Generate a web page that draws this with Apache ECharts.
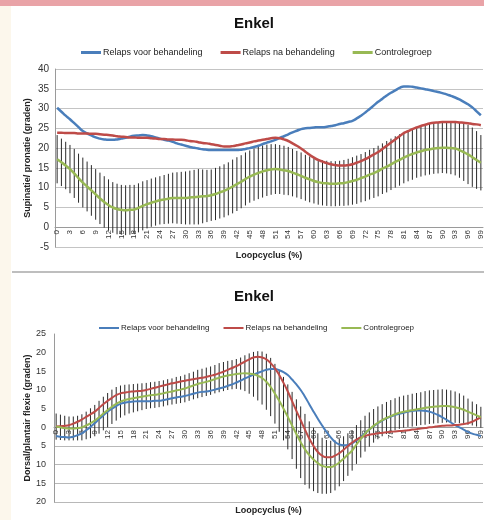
<!DOCTYPE html>
<html>
<head>
<meta charset="utf-8">
<script src="https://cdn.jsdelivr.net/npm/echarts@6/dist/echarts.min.js"></script>
<style>
  html, body { margin: 0; padding: 0; background: #fff; }
  #chart { width: 484px; height: 520px; }
</style>
</head>
<body>
<div id="chart"></div>
<script>
// loopcyclus 0..99 %
const cycle = Array.from({ length: 100 }, (_, i) => String(i));

// Enkel - supinatie/pronatie (boven)
const supVoor = [30.2, 29.2, 28.2, 27.3, 26.3, 25.3, 24.3, 23.7, 23.2, 22.7, 22.4, 22.2, 22.1, 22.1, 22.2, 22.4, 22.6, 22.9, 23.1, 23.2,
  23.3, 23.2, 23.0, 22.7, 22.4, 22.1, 21.9, 21.6, 21.2, 20.9, 20.6, 20.3, 20.1, 19.9, 19.7, 19.6, 19.5, 19.5, 19.5, 19.5,
  19.5, 19.5, 19.5, 19.6, 19.8, 20.0, 20.3, 20.6, 21.0, 21.4, 21.7, 22.1, 22.6, 23.0, 23.5, 24.0, 24.4, 24.8, 25.0, 25.1,
  25.2, 25.3, 25.3, 25.4, 25.6, 25.8, 26.1, 26.3, 26.6, 26.9, 27.5, 28.2, 29.0, 29.9, 30.8, 31.7, 32.5, 33.3, 34.0, 34.6,
  35.2, 35.6, 35.6, 35.5, 35.3, 35.1, 34.9, 34.7, 34.4, 34.2, 33.9, 33.6, 33.2, 32.8, 32.3, 31.7, 31.1, 30.3, 29.3, 28.3];
const supNa = [23.9, 23.9, 23.8, 23.8, 23.8, 23.7, 23.7, 23.7, 23.6, 23.6, 23.5, 23.4, 23.3, 23.2, 23.0, 22.9, 22.8, 22.7, 22.7, 22.6,
  22.6, 22.6, 22.5, 22.4, 22.3, 22.3, 22.2, 22.2, 22.1, 22.1, 22.0, 21.8, 21.7, 21.5, 21.3, 21.2, 21.0, 20.8, 20.6, 20.4,
  20.4, 20.5, 20.7, 20.9, 21.2, 21.4, 21.7, 21.9, 22.1, 22.3, 22.5, 22.6, 22.5, 22.2, 21.8, 21.2, 20.6, 19.9, 19.1, 18.3,
  17.6, 17.0, 16.6, 16.2, 15.9, 15.7, 15.6, 15.6, 15.7, 15.9, 16.3, 16.7, 17.2, 17.8, 18.4, 19.0, 19.8, 20.6, 21.4, 22.2,
  23.0, 23.8, 24.3, 24.8, 25.2, 25.6, 25.9, 26.2, 26.4, 26.5, 26.6, 26.6, 26.6, 26.6, 26.5, 26.4, 26.3, 26.1, 26.0, 25.8];
const supControle = [17.2, 16.4, 15.6, 14.7, 13.6, 12.4, 11.3, 10.3, 9.3, 8.3, 7.3, 6.4, 5.6, 5.0, 4.6, 4.4, 4.3, 4.4, 4.5, 4.9,
  5.4, 5.8, 6.2, 6.5, 6.8, 7.0, 7.2, 7.4, 7.4, 7.4, 7.4, 7.5, 7.6, 7.7, 7.8, 7.9, 8.1, 8.4, 8.8, 9.2,
  9.7, 10.3, 10.9, 11.5, 12.2, 12.8, 13.3, 13.7, 14.1, 14.4, 14.6, 14.7, 14.6, 14.4, 14.2, 13.8, 13.4, 13.0, 12.5, 12.1,
  11.7, 11.4, 11.2, 11.1, 11.0, 11.0, 11.1, 11.2, 11.4, 11.7, 12.0, 12.4, 12.8, 13.3, 13.7, 14.2, 14.8, 15.3, 15.9, 16.5,
  17.0, 17.6, 18.1, 18.5, 18.9, 19.2, 19.5, 19.7, 19.9, 20.0, 20.1, 20.1, 20.0, 19.9, 19.5, 19.0, 18.4, 17.7, 17.0, 16.3];
const supControleSd = [6.1, 6.0, 6.0, 6.1, 6.2, 6.2, 6.3, 6.3, 6.4, 6.4, 6.5, 6.5, 6.5, 6.4, 6.4, 6.3, 6.3, 6.3, 6.2, 6.2,
  6.2, 6.1, 6.1, 6.1, 6.1, 6.2, 6.3, 6.4, 6.5, 6.6, 6.7, 6.8, 6.9, 7.0, 6.8, 6.6, 6.5, 6.6, 6.6, 6.7,
  6.7, 6.8, 6.8, 6.7, 6.7, 6.6, 6.6, 6.6, 6.6, 6.5, 6.4, 6.3, 6.2, 6.2, 6.1, 6.0, 5.9, 5.9, 5.8, 5.8,
  5.7, 5.7, 5.7, 5.7, 5.7, 5.7, 5.7, 5.8, 5.9, 6.0, 6.1, 6.1, 6.2, 6.3, 6.3, 6.4, 6.4, 6.5, 6.5, 6.5,
  6.5, 6.5, 6.5, 6.5, 6.4, 6.4, 6.4, 6.4, 6.4, 6.4, 6.4, 6.5, 6.6, 6.8, 7.0, 7.3, 7.5, 7.5, 7.3, 7.0];

// Enkel - dorsaal/plantair flexie (onder)
const flexVoor = [-2.3, -2.5, -2.6, -2.7, -2.5, -2.1, -1.6, -0.8, 0.1, 1.1, 2.2, 3.2, 4.2, 5.0, 5.7, 6.3, 6.6, 6.8, 6.9, 7.0,
  7.0, 7.0, 7.0, 7.1, 7.1, 7.3, 7.5, 7.8, 8.0, 8.2, 8.4, 8.7, 9.0, 9.3, 9.5, 9.6, 9.8, 10.1, 10.4, 10.7,
  11.1, 11.5, 12.0, 12.5, 13.1, 13.6, 14.1, 14.6, 15.0, 15.4, 15.6, 15.6, 15.3, 14.8, 14.0, 12.8, 11.5, 10.0, 8.2, 6.2,
  4.2, 2.3, 0.5, -1.2, -2.7, -3.9, -4.6, -4.8, -4.7, -4.3, -3.5, -2.6, -1.6, -0.6, 0.3, 1.1, 1.8, 2.4, 2.9, 3.3,
  3.6, 3.9, 4.2, 4.4, 4.5, 4.5, 4.4, 4.2, 3.8, 3.3, 2.7, 2.0, 1.3, 0.6, 0.0, -0.6, -1.2, -1.7, -2.0, -2.3];
const flexNa = [0.2, 0.3, 0.4, 0.6, 1.0, 1.5, 2.1, 2.8, 3.5, 4.2, 5.2, 6.2, 7.1, 7.9, 8.6, 9.1, 9.3, 9.5, 9.6, 9.7,
  9.8, 10.0, 10.3, 10.6, 10.9, 11.2, 11.5, 11.8, 12.0, 12.3, 12.5, 12.7, 12.9, 13.1, 13.3, 13.5, 13.8, 14.1, 14.5, 14.9,
  15.4, 15.9, 16.4, 17.0, 17.6, 18.2, 18.7, 18.9, 18.7, 18.2, 17.2, 15.8, 14.0, 11.9, 9.6, 7.0, 4.4, 1.9, -0.6, -3.0,
  -5.0, -6.6, -7.6, -8.0, -8.0, -7.6, -6.9, -6.0, -5.0, -4.1, -3.3, -2.7, -2.3, -2.0, -1.8, -1.6, -1.5, -1.3, -1.2, -1.1,
  -1.0, -0.9, -0.8, -0.6, -0.5, -0.3, -0.2, 0.0, 0.1, 0.3, 0.4, 0.5, 0.5, 0.6, 0.7, 0.9, 1.1, 1.5, 2.1, 2.7];
const flexControle = [0.2, 0.0, -0.2, -0.3, -0.3, -0.2, 0.0, 0.5, 1.1, 1.8, 2.7, 3.7, 4.6, 5.5, 6.3, 6.9, 7.3, 7.6, 7.8, 8.0,
  8.2, 8.4, 8.6, 8.7, 8.9, 9.1, 9.4, 9.6, 9.9, 10.1, 10.4, 10.8, 11.2, 11.6, 11.9, 12.2, 12.5, 12.9, 13.3, 13.6,
  13.9, 14.1, 14.3, 14.4, 14.5, 14.4, 14.2, 13.8, 13.2, 12.2, 10.8, 9.0, 7.1, 5.0, 2.8, 0.5, -1.8, -4.0, -5.9, -7.4,
  -8.6, -9.6, -10.3, -10.6, -10.6, -10.2, -9.4, -8.4, -7.3, -6.2, -4.6, -3.1, -1.7, -0.6, 0.4, 1.2, 1.9, 2.5, 3.0, 3.5,
  3.9, 4.2, 4.4, 4.6, 4.8, 5.0, 5.2, 5.4, 5.5, 5.6, 5.7, 5.7, 5.6, 5.4, 5.1, 4.7, 4.2, 3.7, 3.2, 2.7];
const flexControleSd = [3.5, 3.4, 3.3, 3.2, 3.2, 3.3, 3.5, 3.7, 4.0, 4.2, 4.4, 4.5, 4.6, 4.6, 4.5, 4.3, 4.1, 3.9, 3.8, 3.7,
  3.6, 3.5, 3.5, 3.5, 3.5, 3.5, 3.5, 3.5, 3.6, 3.6, 3.7, 3.7, 3.7, 3.8, 3.8, 3.8, 3.8, 3.8, 3.9, 3.9,
  3.9, 3.9, 4.0, 4.3, 4.8, 5.4, 6.0, 6.6, 7.1, 7.5, 7.8, 8.0, 8.3, 8.5, 8.7, 9.0, 9.3, 9.6, 9.5, 9.0,
  8.5, 8.0, 7.5, 7.2, 7.0, 6.7, 6.4, 6.0, 5.7, 5.4, 5.2, 5.0, 4.8, 4.6, 4.5, 4.4, 4.3, 4.3, 4.3, 4.3,
  4.3, 4.3, 4.3, 4.4, 4.4, 4.4, 4.5, 4.5, 4.5, 4.5, 4.5, 4.4, 4.3, 4.2, 4.0, 3.8, 3.5, 3.2, 3.0, 2.8];

const names = ['Relaps voor behandeling', 'Relaps na behandeling', 'Controlegroep'];
const colors = ['#4a7ebb', '#be4b48', '#98b954'];
const font = 'Liberation Sans, Arial, sans-serif';

function errorBar(params, api) {
  var lo = api.coord([api.value(0), api.value(1)]);
  var hi = api.coord([api.value(0), api.value(2)]);
  return {
    type: 'line',
    shape: { x1: lo[0], y1: lo[1], x2: hi[0], y2: hi[1] },
    style: { stroke: '#2a2a2a', lineWidth: 1 }
  };
}

function lineSeries(name, data, idx, width) {
  return {
    name: name, type: 'line', xAxisIndex: idx, yAxisIndex: idx,
    data: data, showSymbol: false, symbol: 'none', smooth: true,
    lineStyle: { width: width, color: colors[names.indexOf(name)] },
    itemStyle: { color: colors[names.indexOf(name)] },
    z: 5
  };
}

// x axis sits on the zero line: shifted up from the grid bottom
function xAxis(idx, shift, gap) {
  return {
    type: 'category', gridIndex: idx, data: cycle, boundaryGap: true, offset: shift,
    axisLine: { onZero: false, lineStyle: { color: '#9a9a9a' } },
    axisTick: { interval: 0, length: 3, lineStyle: { color: '#777' } },
    axisLabel: { interval: 2, rotate: 90, fontSize: 8, color: '#333', margin: 3, fontFamily: font },
    name: 'Loopcyclus (%)', nameLocation: 'middle', nameGap: gap, nameMoveOverlap: false,
    nameTextStyle: { fontSize: 9, fontWeight: 'bold', color: '#222', fontFamily: font }
  };
}

var chart = echarts.init(document.getElementById('chart'));
chart.setOption({
  backgroundColor: '#fff',
  animation: false,
  graphic: [
    { type: 'rect', shape: { x: 0, y: 0, width: 11, height: 520 }, style: { fill: '#fcf7ec' } },
    { type: 'rect', shape: { x: 0, y: 0, width: 484, height: 6 }, style: { fill: '#e9a3a7' } },
    { type: 'line', shape: { x1: 12, y1: 272, x2: 484, y2: 272 }, style: { stroke: '#a8a8a8', lineWidth: 1.5 } }
  ],
  title: [
    { text: 'Enkel', left: 229, top: 11, textStyle: { fontSize: 15, fontWeight: 'bold', color: '#111', fontFamily: font } },
    { text: 'Enkel', left: 229, top: 284, textStyle: { fontSize: 15, fontWeight: 'bold', color: '#111', fontFamily: font } }
  ],
  legend: [
    { data: names, left: 76, top: 43, icon: 'rect', itemWidth: 20, itemHeight: 3, itemGap: 18,
      textStyle: { fontSize: 9, color: '#222', fontFamily: font, padding: [0, 0, 0, -3] } },
    { data: names, left: 94, top: 319, icon: 'rect', itemWidth: 20, itemHeight: 2, itemGap: 14,
      textStyle: { fontSize: 8, color: '#222', fontFamily: font, padding: [0, 0, 0, -3] } }
  ],
  grid: [
    { left: 55, right: 1, top: 69, height: 178, outerBoundsMode: 'none', containLabel: false },
    { left: 54, right: 1, top: 334, height: 168, outerBoundsMode: 'none', containLabel: false }
  ],
  xAxis: [xAxis(0, -20, 24), xAxis(1, -75, 79)],
  yAxis: [
    {
      type: 'value', gridIndex: 0, min: -5, max: 40, interval: 5,
      axisLine: { show: true, onZero: false, lineStyle: { color: '#9a9a9a' } },
      axisTick: { show: false },
      axisLabel: { fontSize: 10, color: '#333', margin: 6, fontFamily: font },
      splitLine: { lineStyle: { color: '#c4c4c4' } },
      name: 'Supinatie/ pronatie (graden)', nameLocation: 'middle', nameGap: 23, nameMoveOverlap: false,
      nameTextStyle: { fontSize: 9, fontWeight: 'bold', color: '#222', fontFamily: font }
    },
    {
      type: 'value', gridIndex: 1, min: -20, max: 25, interval: 5,
      axisLine: { show: true, onZero: false, lineStyle: { color: '#9a9a9a' } },
      axisTick: { show: false },
      axisLabel: { fontSize: 9, color: '#333', margin: 8, fontFamily: font, formatter: v => String(Math.abs(v)) },
      splitLine: { lineStyle: { color: ['#b8b8b8', '#b8b8b8', '#b8b8b8', '#b8b8b8', 'rgba(0,0,0,0)',
        'rgba(0,0,0,0)', 'rgba(0,0,0,0)', 'rgba(0,0,0,0)', 'rgba(0,0,0,0)', 'rgba(0,0,0,0)'] } },
      name: 'Dorsal/plantair flexie (graden)', nameLocation: 'middle', nameGap: 22, nameMoveOverlap: false,
      nameTextStyle: { fontSize: 9, fontWeight: 'bold', color: '#222', fontFamily: font }
    }
  ],
  series: [
    {
      name: 'sd boven', type: 'custom', xAxisIndex: 0, yAxisIndex: 0, renderItem: errorBar, z: 1,
      data: supControle.map((v, i) => [i, v - supControleSd[i], v + supControleSd[i]])
    },
    lineSeries(names[0], supVoor, 0, 2.5),
    lineSeries(names[1], supNa, 0, 2.5),
    lineSeries(names[2], supControle, 0, 2.5),
    {
      name: 'sd onder', type: 'custom', xAxisIndex: 1, yAxisIndex: 1, renderItem: errorBar, z: 1,
      data: flexControle.map((v, i) => [i, v - flexControleSd[i], v + flexControleSd[i]])
    },
    lineSeries(names[0], flexVoor, 1, 2),
    lineSeries(names[1], flexNa, 1, 2),
    lineSeries(names[2], flexControle, 1, 2)
  ]
});
</script>
</body>
</html>
